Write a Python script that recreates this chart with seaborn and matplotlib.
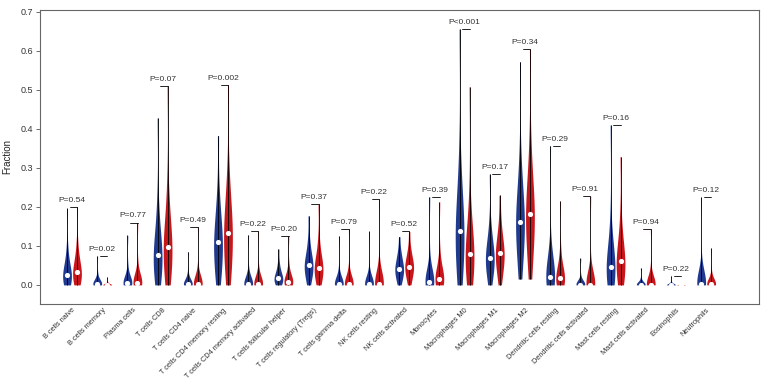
import matplotlib
matplotlib.use("Agg")
import matplotlib.pyplot as plt
import numpy as np
import pandas as pd
import seaborn as sns

cells = [
    "B cells naive", "B cells memory", "Plasma cells", "T cells CD8",
    "T cells CD4 naive", "T cells CD4 memory resting",
    "T cells CD4 memory activated", "T cells follicular helper",
    "T cells regulatory (Tregs)", "T cells gamma delta", "NK cells resting",
    "NK cells activated", "Monocytes", "Macrophages M0", "Macrophages M1",
    "Macrophages M2", "Dendritic cells resting", "Dendritic cells activated",
    "Mast cells resting", "Mast cells activated", "Eosinophils", "Neutrophils",
]

p_labels = [
    "P=0.54", "P=0.02", "P=0.77", "P=0.07", "P=0.49", "P=0.002", "P=0.22",
    "P=0.20", "P=0.37", "P=0.79", "P=0.22", "P=0.52", "P=0.39", "P<0.001",
    "P=0.17", "P=0.34", "P=0.29", "P=0.91", "P=0.16", "P=0.94", "P=0.22",
    "P=0.12",
]

# estimated sample fractions, first group (blue)
blue_values = [
    [0.0, 0.003, 0.007, 0.011, 0.015, 0.019, 0.022, 0.025, 0.03, 0.036, 0.044, 0.055, 0.07, 0.1, 0.196],
    [0, 0, 0, 0.001, 0.001, 0.002, 0.002, 0.003, 0.004, 0.005, 0.007, 0.01, 0.015, 0.03, 0.074],
    [0, 0, 0.001, 0.002, 0.003, 0.004, 0.004, 0.005, 0.006, 0.008, 0.01, 0.014, 0.022, 0.045, 0.127],
    [0.0, 0.01, 0.025, 0.04, 0.05, 0.06, 0.07, 0.077, 0.085, 0.095, 0.11, 0.13, 0.16, 0.22, 0.428],
    [0, 0, 0, 0, 0.001, 0.001, 0.002, 0.002, 0.003, 0.004, 0.006, 0.009, 0.015, 0.03, 0.085],
    [0.0, 0.015, 0.035, 0.055, 0.07, 0.085, 0.098, 0.11, 0.122, 0.136, 0.15, 0.17, 0.2, 0.25, 0.383],
    [0, 0, 0, 0, 0.001, 0.001, 0.002, 0.002, 0.003, 0.004, 0.006, 0.009, 0.016, 0.035, 0.128],
    [0, 0.002, 0.005, 0.008, 0.011, 0.014, 0.016, 0.018, 0.021, 0.025, 0.03, 0.036, 0.045, 0.06, 0.092],
    [0, 0.01, 0.02, 0.03, 0.037, 0.042, 0.047, 0.051, 0.056, 0.062, 0.07, 0.08, 0.095, 0.12, 0.177],
    [0, 0, 0, 0, 0.001, 0.001, 0.002, 0.002, 0.003, 0.004, 0.006, 0.009, 0.016, 0.035, 0.125],
    [0, 0, 0, 0, 0.001, 0.001, 0.002, 0.002, 0.003, 0.004, 0.006, 0.009, 0.016, 0.035, 0.137],
    [0, 0.008, 0.016, 0.024, 0.03, 0.035, 0.039, 0.042, 0.047, 0.053, 0.06, 0.068, 0.078, 0.092, 0.124],
    [0, 0, 0.001, 0.002, 0.003, 0.005, 0.006, 0.007, 0.009, 0.012, 0.016, 0.022, 0.032, 0.06, 0.226],
    [0.0, 0.02, 0.045, 0.07, 0.09, 0.108, 0.123, 0.137, 0.152, 0.168, 0.185, 0.21, 0.25, 0.33, 0.656],
    [0.0, 0.015, 0.03, 0.042, 0.05, 0.057, 0.064, 0.07, 0.077, 0.085, 0.095, 0.108, 0.125, 0.16, 0.284],
    [0.015, 0.05, 0.08, 0.105, 0.125, 0.138, 0.15, 0.162, 0.175, 0.19, 0.207, 0.228, 0.26, 0.33, 0.572],
    [0, 0.002, 0.005, 0.008, 0.011, 0.014, 0.017, 0.02, 0.024, 0.029, 0.036, 0.046, 0.06, 0.1, 0.357],
    [0, 0, 0, 0, 0, 0.001, 0.001, 0.001, 0.002, 0.003, 0.004, 0.006, 0.01, 0.02, 0.068],
    [0, 0.005, 0.012, 0.02, 0.028, 0.034, 0.04, 0.045, 0.052, 0.06, 0.07, 0.085, 0.11, 0.16, 0.41],
    [0, 0, 0, 0, 0, 0.001, 0.001, 0.001, 0.002, 0.003, 0.004, 0.006, 0.009, 0.016, 0.043],
    [0, 0, 0, 0, 0, 0, 0, 0, 0, 0, 0.001, 0.002, 0.004, 0.008, 0.023],
    [0, 0, 0.001, 0.001, 0.002, 0.002, 0.003, 0.003, 0.004, 0.006, 0.009, 0.014, 0.025, 0.05, 0.225],
]

# estimated sample fractions, second group (red)
red_values = [
    [0.0, 0.005, 0.01, 0.015, 0.02, 0.025, 0.029, 0.033, 0.038, 0.045, 0.053, 0.064, 0.08, 0.11, 0.2],
    [0, 0, 0, 0, 0, 0, 0, 0, 0, 0, 0.001, 0.002, 0.004, 0.008, 0.02],
    [0, 0, 0.001, 0.002, 0.003, 0.004, 0.005, 0.005, 0.007, 0.009, 0.012, 0.016, 0.025, 0.05, 0.16],
    [0.0, 0.015, 0.035, 0.05, 0.065, 0.078, 0.088, 0.098, 0.108, 0.12, 0.135, 0.155, 0.19, 0.26, 0.51],
    [0, 0, 0, 0, 0.001, 0.001, 0.002, 0.002, 0.003, 0.004, 0.006, 0.01, 0.018, 0.04, 0.148],
    [0.0, 0.02, 0.045, 0.065, 0.085, 0.103, 0.12, 0.134, 0.148, 0.163, 0.18, 0.2, 0.235, 0.3, 0.513],
    [0, 0, 0, 0, 0.001, 0.001, 0.002, 0.002, 0.003, 0.004, 0.006, 0.01, 0.018, 0.04, 0.138],
    [0, 0.001, 0.002, 0.003, 0.004, 0.006, 0.007, 0.008, 0.01, 0.013, 0.017, 0.022, 0.03, 0.05, 0.125],
    [0, 0.008, 0.017, 0.025, 0.031, 0.036, 0.04, 0.044, 0.049, 0.055, 0.063, 0.074, 0.09, 0.12, 0.207],
    [0, 0, 0, 0, 0.001, 0.001, 0.002, 0.002, 0.003, 0.004, 0.006, 0.01, 0.018, 0.04, 0.144],
    [0, 0, 0, 0, 0.001, 0.001, 0.002, 0.002, 0.003, 0.004, 0.006, 0.01, 0.02, 0.05, 0.22],
    [0, 0.01, 0.02, 0.028, 0.035, 0.04, 0.044, 0.047, 0.052, 0.058, 0.065, 0.073, 0.083, 0.1, 0.137],
    [0, 0.001, 0.003, 0.005, 0.008, 0.01, 0.013, 0.015, 0.018, 0.022, 0.028, 0.036, 0.05, 0.08, 0.213],
    [0.0, 0.01, 0.025, 0.04, 0.052, 0.062, 0.071, 0.079, 0.088, 0.099, 0.112, 0.13, 0.16, 0.22, 0.508],
    [0.0, 0.02, 0.035, 0.048, 0.058, 0.066, 0.074, 0.081, 0.089, 0.098, 0.108, 0.12, 0.14, 0.17, 0.23],
    [0.015, 0.055, 0.09, 0.115, 0.137, 0.153, 0.167, 0.181, 0.196, 0.212, 0.23, 0.255, 0.29, 0.37, 0.604],
    [0, 0.002, 0.004, 0.007, 0.01, 0.012, 0.015, 0.017, 0.02, 0.025, 0.031, 0.04, 0.055, 0.09, 0.215],
    [0, 0, 0, 0, 0, 0.001, 0.001, 0.001, 0.002, 0.003, 0.005, 0.008, 0.015, 0.04, 0.228],
    [0, 0.008, 0.018, 0.028, 0.037, 0.045, 0.054, 0.062, 0.07, 0.08, 0.092, 0.108, 0.13, 0.18, 0.329],
    [0, 0, 0, 0, 0, 0.001, 0.001, 0.001, 0.002, 0.003, 0.005, 0.008, 0.015, 0.04, 0.143],
    [0, 0, 0, 0, 0, 0, 0, 0, 0, 0, 0, 0.001, 0.002, 0.003, 0.006],
    [0, 0, 0, 0.001, 0.001, 0.002, 0.002, 0.002, 0.003, 0.004, 0.006, 0.009, 0.015, 0.03, 0.094],
]

blue = "#1f3a8f"
red = "#c8161d"
groups = ["blue", "red"]

sns.set_style("ticks")
plt.rcParams["font.family"] = ["Liberation Sans", "DejaVu Sans"]

# long-form table
rows = []
for cell, bv, rv in zip(cells, blue_values, red_values):
    for v in bv:
        rows.append((cell, "blue", v))
    for v in rv:
        rows.append((cell, "red", v))
df = pd.DataFrame(rows, columns=["cell", "group", "value"])

fig = plt.figure(figsize=(7.64, 3.83), dpi=100)
ax = fig.add_axes([40 / 764, 79 / 383, 719 / 764, 294 / 383])

sns.violinplot(
    data=df,
    x="cell",
    y="value",
    hue="group",
    order=cells,
    hue_order=groups,
    palette=[blue, red],
    saturation=1,
    density_norm="width",
    cut=0,
    inner=None,
    width=0.66,
    gap=0.12,
    linewidth=0,
    bw_adjust=0.9,
    legend=False,
    ax=ax,
)

off = 0.165
for i, (bv, rv) in enumerate(zip(blue_values, red_values)):
    for x, vals in ((i - off, bv), (i + off, rv)):
        vals = np.array(vals)
        ax.vlines(x, vals.min(), vals.max(), color="black", lw=0.6, zorder=3)
        ax.scatter(x, np.median(vals), s=14, color="white", lw=0, zorder=4)
    top = max(max(bv), max(rv))
    ax.plot([i - 0.08, i + 0.17], [top, top], color="black", lw=0.6, zorder=3)
    ax.text(i, top + 0.008, p_labels[i], ha="center", va="bottom",
            fontsize=6, color="#333333")

ax.set_xlim(-1.06, 22.75)
ax.set_ylim(-0.049, 0.705)
ax.set_yticks(np.arange(0, 0.71, 0.1))
ax.set_yticklabels([f"{t:.1f}" for t in np.arange(0, 0.71, 0.1)])
ax.set_xlabel("")
ax.set_ylabel("Fraction", fontsize=7, color="#222222", labelpad=6)
ax.tick_params(axis="y", labelsize=6.5, labelcolor="#333333", length=3,
               width=0.6, color="#555555", pad=2)
ax.tick_params(axis="x", length=0, pad=2)
plt.setp(ax.get_xticklabels(), rotation=45, ha="right", rotation_mode="anchor",
         fontsize=5.3, color="#333333")
for s in ax.spines.values():
    s.set_visible(True)
    s.set_color("#666666")
    s.set_linewidth(0.8)

fig.savefig("out.png", dpi=100)
